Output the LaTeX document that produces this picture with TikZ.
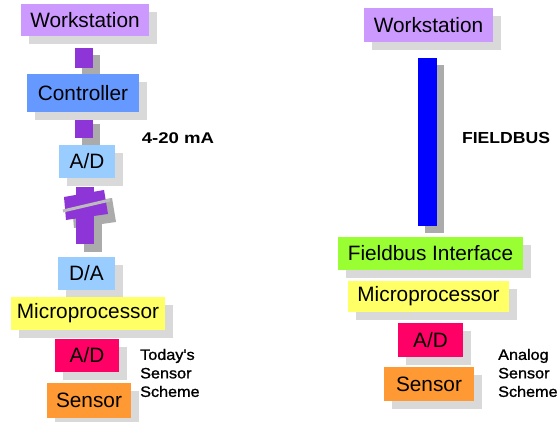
\documentclass[tikz,border=0pt]{standalone}
\usepackage{fontspec}
\setmainfont{Liberation Sans}
\newfontfamily\mafont[FakeStretch=1.2]{Liberation Sans}
\newfontfamily\fbfont[FakeStretch=1.1]{Liberation Sans}
\newfontfamily\schfont[FakeStretch=1.08,FakeBold=1.2]{Liberation Sans}
\usetikzlibrary{shadows}
\definecolor{cws}{HTML}{CC99FF}
\definecolor{cctl}{HTML}{6699FF}
\definecolor{cad}{HTML}{99CCFF}
\definecolor{cmic}{HTML}{FFFF66}
\definecolor{cpink}{HTML}{FF0066}
\definecolor{csen}{HTML}{FF9933}
\definecolor{cfbi}{HTML}{99FF33}
\definecolor{clink}{HTML}{8E35D8}
\definecolor{cbus}{HTML}{0000FF}
\definecolor{boxshadow}{HTML}{D9D9D9}
\definecolor{linkshadow}{HTML}{ABABAB}
\begin{document}
\begin{tikzpicture}[x=1pt,y=-1pt,
  box/.style={rectangle, inner sep=0pt, outer sep=0pt, anchor=north west,
    font=\fontsize{20.8}{24}\selectfont,
    drop shadow={shadow xshift=8pt, shadow yshift=-8pt, fill=boxshadow, opacity=1}},
  link/.style={rectangle, inner sep=0pt, outer sep=0pt, anchor=north west,
    drop shadow={shadow xshift=7pt, shadow yshift=-7pt, fill=linkshadow, opacity=1}},
  side/.style={inner sep=0pt, anchor=west, align=left,
    font=\schfont\fontsize{15}{18.5}\selectfont},
]
\useasboundingbox[fill=white] (0,0) rectangle (558,422);

% ---------- left column: connectors ----------
\node[link, fill=clink, minimum width=18pt, minimum height=20pt] (lc1) at (75,48) {};
\node[link, fill=clink, minimum width=18pt, minimum height=21pt] (lc2) at (75,117) {};

% broken connector (shadow, then purple)
\begin{scope}[shift={(8,8)}]
  \fill[linkshadow] (76,187) rectangle (94,244);
  \fill[linkshadow] (64,197) -- (104,190) -- (108,214) -- (66,220) -- cycle;
\end{scope}
\fill[clink] (76,187) rectangle (94,244);
\fill[clink] (64,197) -- (104,190) -- (108,214) -- (66,220) -- cycle;
\draw[line width=3pt, linkshadow!80] (63,211) -- (110,200);

% ---------- left column: boxes ----------
\node[box, fill=cws, minimum width=128pt, minimum height=32pt] (lws) at (21,4) {Workstation};
\node[box, fill=cctl, minimum width=112pt, minimum height=38pt] (lctl) at (27,74) {Controller};
\node[box, fill=cad, minimum width=56pt, minimum height=33pt] (lad) at (59,145) {A/D};
\node[box, fill=cad, minimum width=57pt, minimum height=33pt] (lda) at (58,257) {D/A};
\node[box, fill=cmic, minimum width=154pt, minimum height=33pt] (lmic) at (11,297) {Microprocessor};
\node[box, fill=cpink, minimum width=64pt, minimum height=33pt] (lad2) at (55,339) {A/D};
\node[box, fill=csen, minimum width=84pt, minimum height=35pt] (lsen) at (47,383) {Sensor};

\node[inner sep=0pt, font=\mafont\bfseries\fontsize{15.5}{18}\selectfont] (ma) at (178,138) {4-20 mA};
\node[side] (today) at (140,373) {Today's\\Sensor\\Scheme};

% ---------- right column ----------
\node[link, fill=cbus, minimum width=19pt, minimum height=168pt] (bus) at (418,58) {};
\node[box, fill=cws, minimum width=129pt, minimum height=34pt] (rws) at (364,8) {Workstation};
\node[box, fill=cfbi, minimum width=185pt, minimum height=33pt] (rfbi) at (338,237) {Fieldbus Interface};
\node[box, fill=cmic, minimum width=161pt, minimum height=31pt] (rmic) at (348,281) {Microprocessor};
\node[box, fill=cpink, minimum width=65pt, minimum height=34pt] (rad) at (398,323) {A/D};
\node[box, fill=csen, minimum width=90pt, minimum height=34pt] (rsen) at (384,367) {Sensor};

\node[inner sep=0pt, font=\fbfont\bfseries\fontsize{16}{19}\selectfont] (fb) at (506,138) {FIELDBUS};
\node[side] (analog) at (498,373) {Analog\\Sensor\\Scheme};
\end{tikzpicture}
\end{document}
